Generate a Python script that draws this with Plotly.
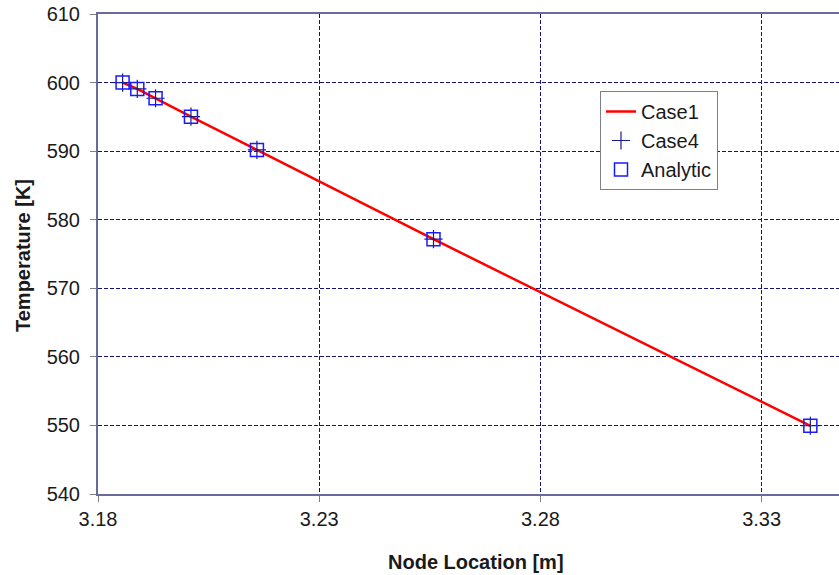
import plotly.graph_objects as go

# Node locations [m] and temperatures [K]
node_x = [3.18556, 3.18888, 3.19301, 3.20101, 3.21592, 3.25583, 3.34101]
case1_T = [600.0, 599.07, 597.71, 595.03, 590.18, 577.16, 549.95]
case4_T = [600.0, 599.07, 597.71, 595.03, 590.18, 577.16, 549.95]
analytic_T = [600.0, 599.07, 597.71, 595.03, 590.18, 577.16, 549.95]

x_ticks = [3.18, 3.23, 3.28, 3.33]
y_ticks = [540, 550, 560, 570, 580, 590, 600, 610]

FONT = "Liberation Sans, Arial, sans-serif"
AXIS_LINE = "#6b6b9b"
GRID = "#14146e"

fig = go.Figure()
fig.add_trace(go.Scatter(
    x=node_x, y=case1_T, name="Case1", mode="lines",
    line=dict(color="#ff0000", width=2.5),
))
fig.add_trace(go.Scatter(
    x=node_x, y=case4_T, name="Case4", mode="markers",
    marker=dict(symbol="cross-thin", size=13, line=dict(color="#1a1a8a", width=1.2)),
))
fig.add_trace(go.Scatter(
    x=node_x, y=analytic_T, name="Analytic", mode="markers",
    marker=dict(symbol="square-open", size=13, color="#1a1aff", line=dict(width=1.5)),
))

fig.update_layout(
    width=839, height=575,
    margin=dict(l=98, r=0, t=14, b=81),
    paper_bgcolor="white", plot_bgcolor="white",
    font=dict(family=FONT, size=20, color="#1a1a1a"),
    showlegend=True,
    legend=dict(
        x=(600 - 98) / (839 - 98), y=1 - (91 - 14) / (494 - 14),
        xanchor="left", yanchor="top",
        bgcolor="white", bordercolor="#808080", borderwidth=1,
        font=dict(family=FONT, size=20, color="#1a1a1a"),
        tracegroupgap=0, itemwidth=30,
    ),
    xaxis=dict(
        range=[3.18, 3.18 + (839 - 97.7) / 4426.0],
        tickvals=x_ticks, ticktext=[f"{v:.2f}" for v in x_ticks],
        showgrid=True, gridcolor=GRID, griddash="4px,2px", gridwidth=1,
        showline=True, linecolor=AXIS_LINE, linewidth=2, mirror=True,
        ticks="outside", ticklen=6, tickcolor="#808080",
        zeroline=False, tickfont=dict(size=20),
    ),
    yaxis=dict(
        range=[540, 610],
        tickvals=y_ticks,
        showgrid=True, gridcolor=GRID, griddash="4px,2px", gridwidth=1,
        showline=True, linecolor=AXIS_LINE, linewidth=2,
        ticks="outside", ticklen=6, tickcolor="#808080",
        zeroline=False, tickfont=dict(size=20), ticklabelstandoff=6,
    ),
    annotations=[
        dict(text="<b>Node Location [m]</b>", xref="paper", yref="paper",
             x=(476 - 98) / (839 - 98), y=-(562 - 494) / (494 - 14),
             xanchor="center", yanchor="middle", showarrow=False,
             font=dict(family=FONT, size=20, color="#1a1a1a")),
        dict(text="<b>Temperature [K]</b>", xref="paper", yref="paper",
             x=-(98 - 23) / (839 - 98), y=(494 - 256) / (494 - 14),
             xanchor="center", yanchor="middle", showarrow=False, textangle=-90,
             font=dict(family=FONT, size=20, color="#1a1a1a")),
    ],
)

fig.write_html("out.html")
